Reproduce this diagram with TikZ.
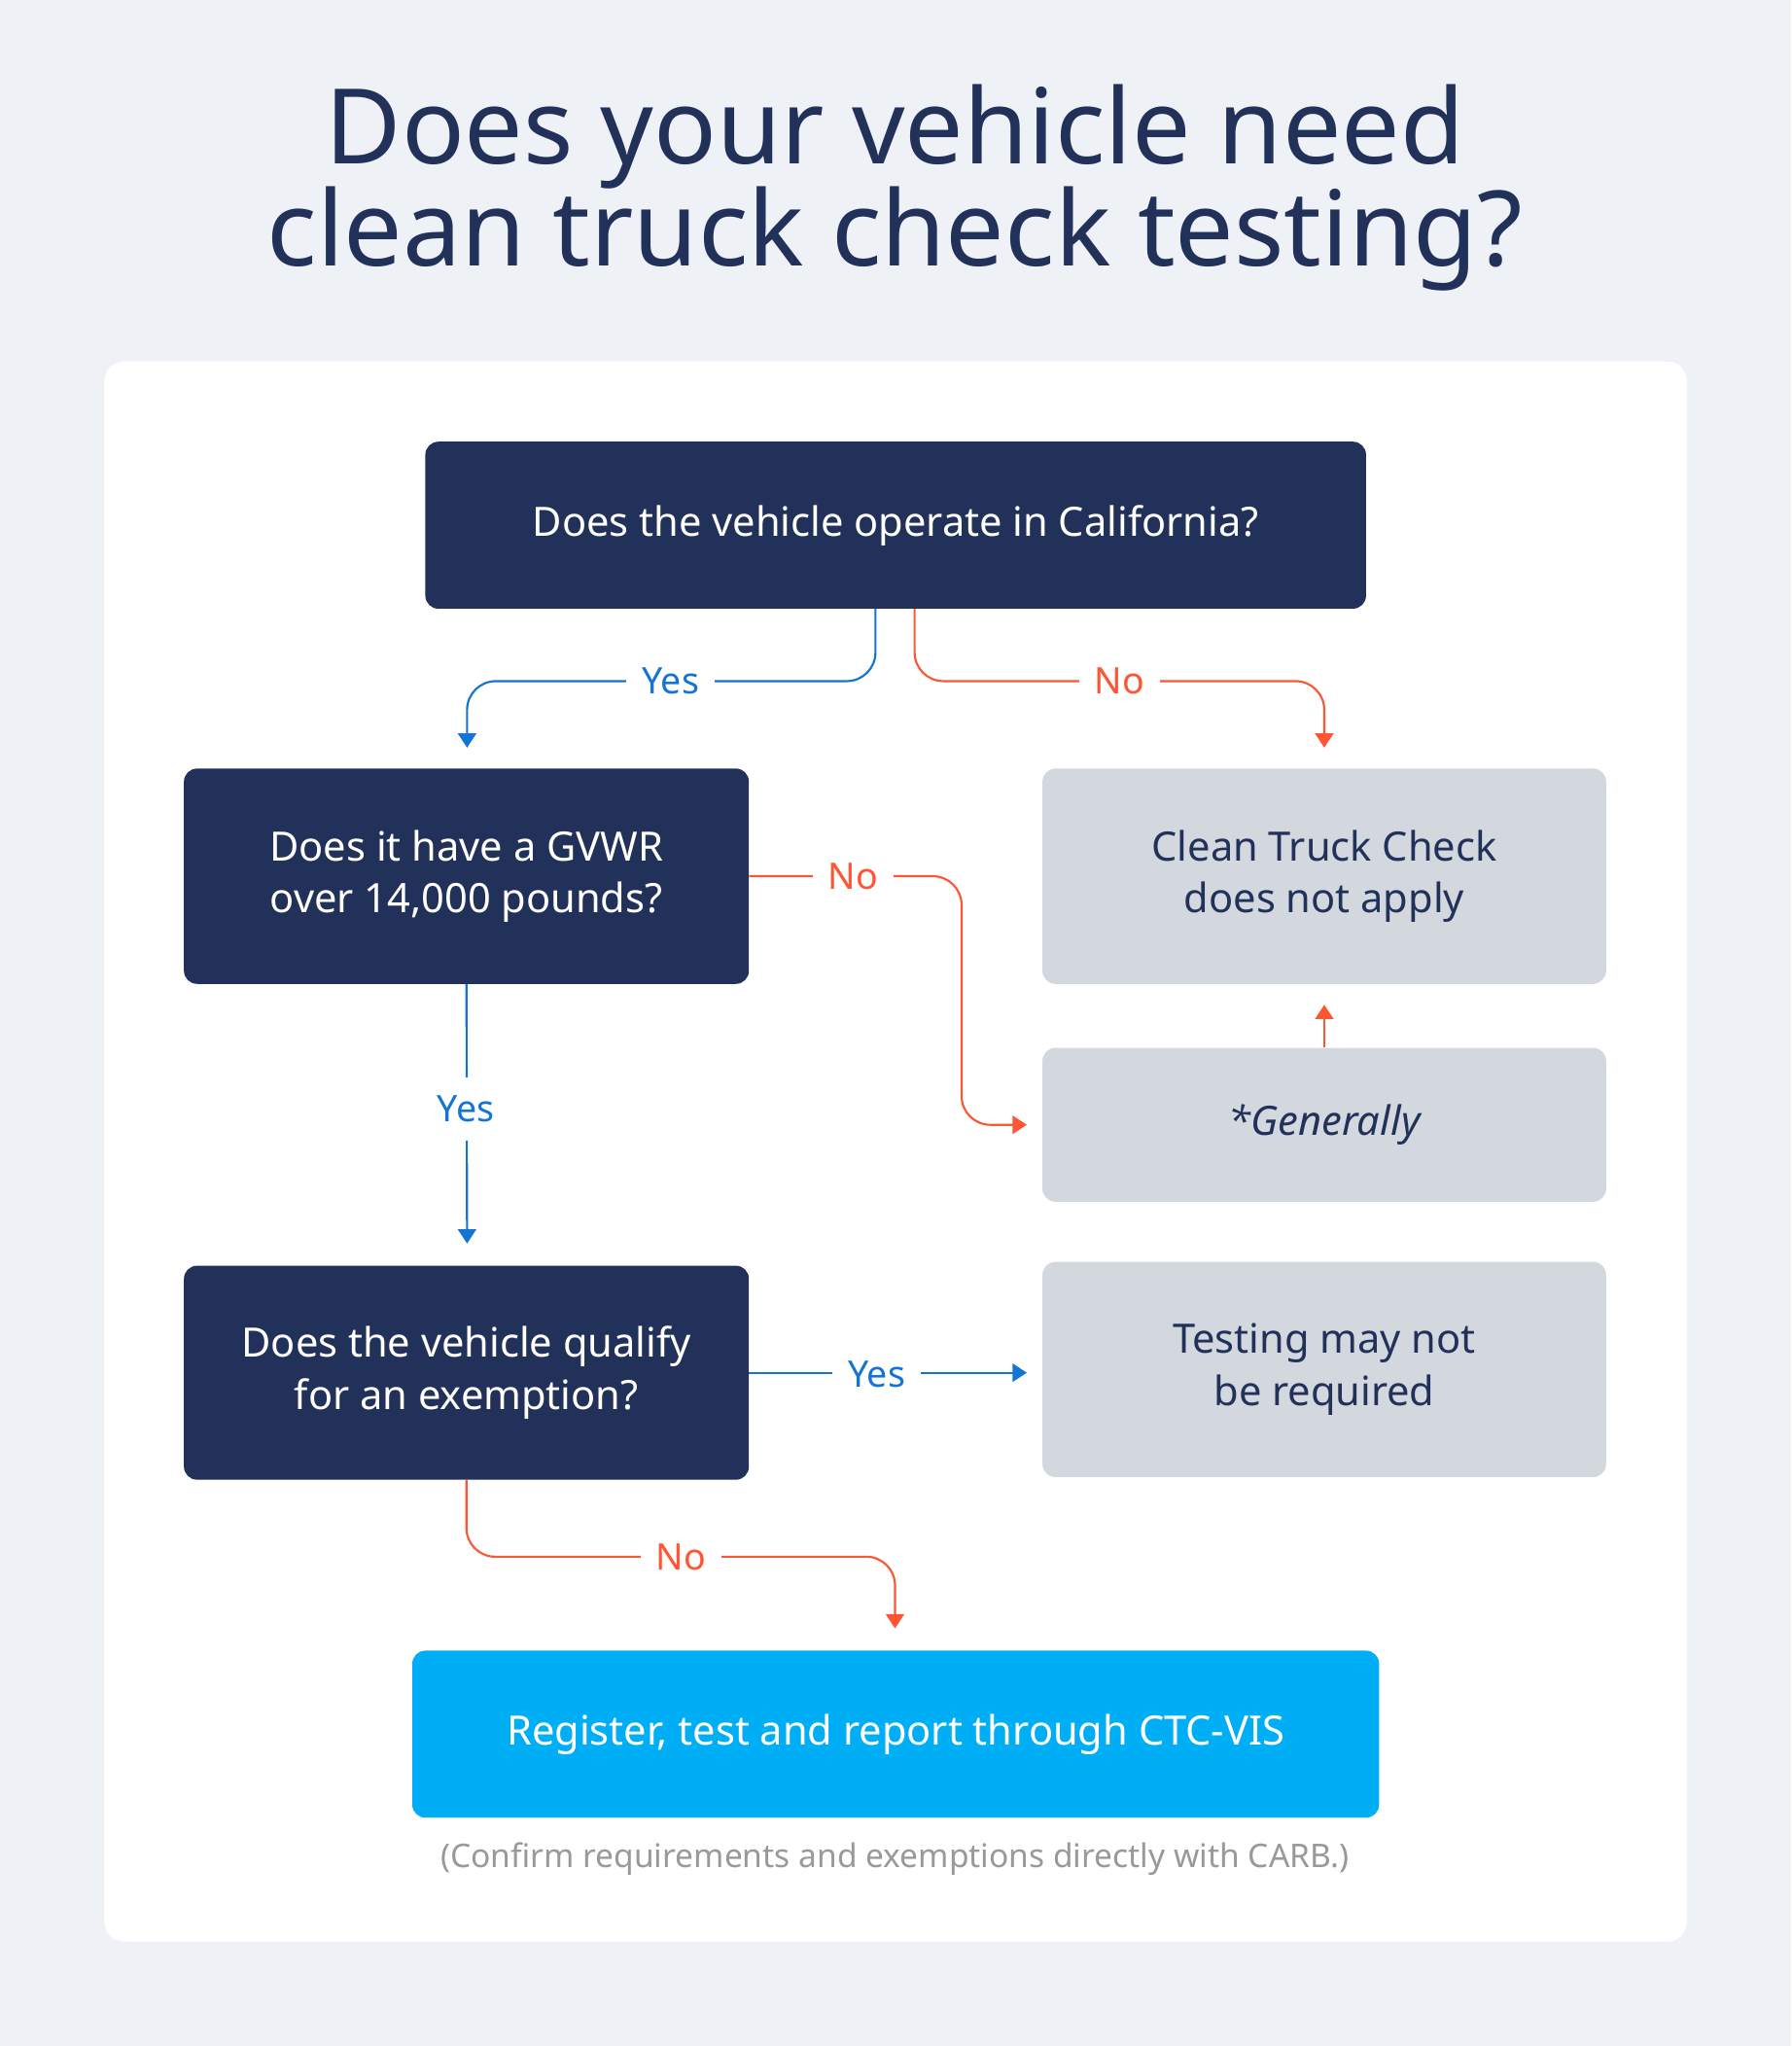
\documentclass[tikz,border=0pt]{standalone}
\usepackage{fontspec}
\setmainfont{Noto Sans}
\usetikzlibrary{arrows.meta}
\definecolor{bg}{HTML}{EEF1F6}
\definecolor{navy}{HTML}{22315A}
\definecolor{grayb}{HTML}{D3D7DE}
\definecolor{cyanb}{HTML}{00AEF5}
\definecolor{yesc}{HTML}{1274D4}
\definecolor{noc}{HTML}{FF5533}
\definecolor{notec}{HTML}{999999}
\begin{document}
\begin{tikzpicture}[x=1pt,y=-1pt,
  box/.style={rounded corners=10pt,align=center,font=\fontsize{31}{40}\selectfont},
  dark/.style={box,fill=navy,text=white},
  light/.style={box,fill=grayb,text=navy},
  lab/.style={fill=white,inner xsep=12pt,font=\fontsize{28}{34}\selectfont},
  yes/.style={draw=yesc,line width=1.6pt,rounded corners=22pt,-{Triangle[length=11pt,width=14pt]}},
  no/.style={draw=noc,line width=1.6pt,rounded corners=22pt,-{Triangle[length=11pt,width=14pt]}}]
\fill[bg] (0,0) rectangle (1373,1568);
\useasboundingbox (0,0) rectangle (1373,1568);
\fill[white,rounded corners=15pt] (80,277) rectangle (1293,1488);
\node[text=navy,font=\fontsize{80}{80}\bfseries\selectfont] (t1) at (686,105) {Does your vehicle need};
\node[text=navy,font=\fontsize{80}{80}\bfseries\selectfont] (t2) at (686,183) {clean truck check testing?};
\node[dark,minimum width=721,minimum height=128] (b1) at (686.5,402.5) {Does the vehicle operate in California?};
\node[dark,minimum width=433,minimum height=165] (b2) at (357.5,671.5) {Does it have a GVWR\\over 14,000 pounds?};
\node[dark,minimum width=433,minimum height=164] (b3) at (357.5,1052) {Does the vehicle qualify\\for an exemption?};
\node[light,minimum width=432,minimum height=165] (g1) at (1015,671.5) {Clean Truck Check\\does not apply};
\node[light,minimum width=432,minimum height=118,font=\fontsize{31}{40}\itshape\selectfont] (g2) at (1015,862) {*Generally};
\node[light,minimum width=432,minimum height=165] (g3) at (1015,1049.5) {Testing may not\\be required};
\node[box,fill=cyanb,text=white,minimum width=741,minimum height=128] (f) at (686.5,1329) {Register, test and report through CTC-VIS};
\node[text=notec,font=\fontsize{25}{30}\selectfont] (note) at (686,1425) {(Confirm requirements and exemptions directly with CARB.)};
\coordinate (a1) at (358,573);
\coordinate (a2) at (1015,573);
\coordinate (a3) at (787,862);
\coordinate (a4) at (358,953);
\coordinate (a5) at (1015,770);
\coordinate (a6) at (787,1052);
\coordinate (a7) at (686,1248);
\draw[yes] (b1.south -| 671,0) |- (514,522) -| (a1);
\draw[no] (b1.south -| 701,0) |- (858,522) -| (a2);
\draw[no] (b2.east) -- (737,671.5) |- (a3);
\draw[yes] (b2.south) -- (a4);
\draw[no] (g2.north) -- (a5);
\draw[yes] (b3.east) -- (a6);
\draw[no] (b3.south) |- (522,1193) -| (a7);
\node[lab,text=yesc] (l1) at (514,522) {Yes};
\node[lab,text=noc] (l2) at (858,522) {No};
\node[lab,text=noc] (l3) at (654,672) {No};
\node[lab,text=yesc,inner ysep=14pt] (l4) at (357,850) {Yes};
\node[lab,text=yesc] (l5) at (672,1053) {Yes};
\node[lab,text=noc] (l6) at (522,1193) {No};
\end{tikzpicture}
\end{document}
